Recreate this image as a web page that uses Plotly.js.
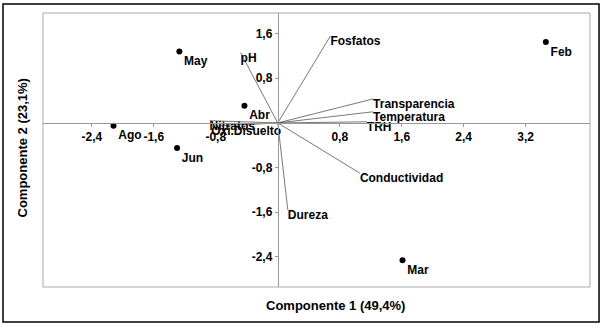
<!DOCTYPE html>
<html>
<head>
<meta charset="utf-8">
<script src="https://cdn.plot.ly/plotly-3.0.1.min.js"></script>
<style>
  html, body { margin: 0; padding: 0; background: #fff; }
  #chart { width: 610px; height: 329px; }
</style>
</head>
<body>
<div id="chart"></div>
<script>
  // ====== Data ======
  var monthLabels = ['May', 'Abr', 'Ago', 'Jun', 'Feb', 'Mar'];
  var monthX = [-1.27, -0.43, -2.12, -1.30, 3.46, 1.61];
  var monthY = [1.28, 0.31, -0.05, -0.45, 1.45, -2.46];

  var varLabels = ['pH', 'Fosfatos', 'Transparencia', 'Temperatura', 'TRH',
                   'Conductividad', 'Dureza', 'Nitratos', 'Oxi.Disuelto'];
  var varX = [-0.48, 0.68, 1.23, 1.23, 1.15, 1.06, 0.13, -0.88, -0.86];
  var varY = [1.26, 1.56, 0.43, 0.20, 0.02, -0.90, -1.56, 0.04, -0.06];

  var tickVals = [-2.4, -1.6, -0.8, 0.8, 1.6, 2.4, 3.2];
  var yTickVals = [-2.4, -1.6, -0.8, 0.8, 1.6];

  function commaLabel(v) { return v.toFixed(1).replace('.', ','); }

  // ====== Traces ======
  var fontFam = '"Liberation Sans", Arial, sans-serif';
  var lx = [], ly = [];
  for (var i = 0; i < varX.length; i++) {
    lx.push(0, varX[i], null);
    ly.push(0, varY[i], null);
  }
  var vectors = {
    x: lx, y: ly, type: 'scatter', mode: 'lines',
    line: { color: '#555', width: 0.8 }, hoverinfo: 'skip'
  };
  var varText = {
    x: varX, y: varY, type: 'scatter', mode: 'text',
    text: varLabels, textposition: 'bottom right',
    textfont: { family: fontFam, size: 12, color: '#000', weight: 'bold' }
  };
  var months = {
    x: monthX, y: monthY, type: 'scatter', mode: 'markers+text',
    marker: { color: '#000', size: 6 },
    text: monthLabels, textposition: 'bottom right',
    textfont: { family: fontFam, size: 12, color: '#000', weight: 'bold' }
  };

  var xr = [-3.03, 4.03], yr = [-2.94, 1.97];
  var layout = {
    width: 610, height: 329,
    margin: { l: 43, r: 20, t: 13, b: 42 },
    paper_bgcolor: '#fff', plot_bgcolor: '#fff',
    showlegend: false,
    font: { family: fontFam, size: 12, color: '#000' },
    xaxis: {
      range: xr, anchor: 'free', position: (0 - yr[0]) / (yr[1] - yr[0]),
      showgrid: false, zeroline: false, showline: true,
      linecolor: '#999', linewidth: 1,
      ticks: 'outside', ticklen: 3, tickcolor: '#999',
      tickvals: tickVals, ticktext: tickVals.map(commaLabel),
      tickfont: { family: fontFam, size: 12, color: '#000', weight: 'bold' }
    },
    yaxis: {
      range: yr, anchor: 'free', position: (0 - xr[0]) / (xr[1] - xr[0]),
      showgrid: false, zeroline: false, showline: true,
      linecolor: '#999', linewidth: 1,
      ticks: 'outside', ticklen: 3, tickcolor: '#999',
      tickvals: yTickVals, ticktext: yTickVals.map(commaLabel),
      tickfont: { family: fontFam, size: 12, color: '#000', weight: 'bold' }
    },
    shapes: [
      { type: 'rect', xref: 'paper', yref: 'paper', x0: 0, x1: 1, y0: 0, y1: 1,
        line: { color: '#aaa', width: 1 } },
      { type: 'rect', xref: 'paper', yref: 'paper', x0: -0.0731, x1: 1.0165, y0: -0.1277, y1: 1.0328,
        line: { color: '#000', width: 1.5 } }
    ],
    annotations: [
      { text: 'Componente 1 (49,4%)', xref: 'paper', yref: 'paper', x: 0.534, y: -0.066,
        yanchor: 'middle', showarrow: false, font: { family: fontFam, size: 13, weight: 'bold' } },
      { text: 'Componente 2 (23,1%)', xref: 'paper', yref: 'paper', x: -0.055, y: 0.507,
        textangle: -90, showarrow: false, font: { family: fontFam, size: 13, weight: 'bold' } }
    ]
  };

  Plotly.newPlot('chart', [vectors, varText, months], layout, { displayModeBar: false, staticPlot: true });
</script>
</body>
</html>
